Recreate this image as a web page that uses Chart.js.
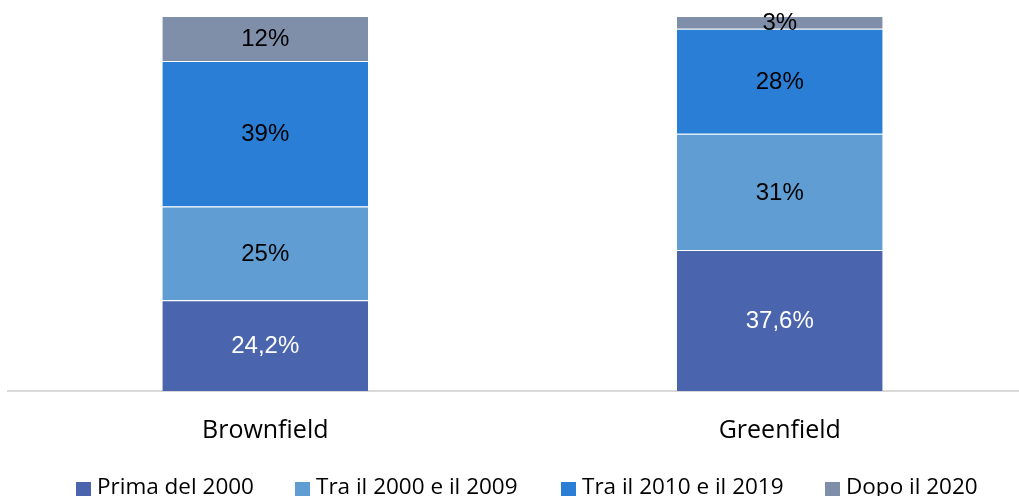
<!DOCTYPE html>
<html>
<head>
<meta charset="utf-8">
<script src="https://cdn.jsdelivr.net/npm/chart.js@4/dist/chart.umd.min.js"></script>
<style>
  html, body { margin: 0; padding: 0; background: #ffffff; overflow: hidden; width: 1019px; height: 496px; }
  #wrap { position: absolute; left: 0; top: 0; width: 1045px; height: 496px; }
</style>
</head>
<body>
<div id="wrap"><canvas id="c"></canvas></div>
<script>
// Categories
const categories = ['Brownfield', 'Greenfield'];
// Series names
const seriesNames = ['Prima del 2000', 'Tra il 2000 e il 2009', 'Tra il 2010 e il 2019', 'Dopo il 2020'];
// Series values (% share)
const prima2000 = [24.2, 37.6];
const tra2000_2009 = [25, 31];
const tra2010_2019 = [38.8, 28];
const dopo2020 = [12, 3.4];
// Data label texts
const labelsPrima = ['24,2%', '37,6%'];
const labelsTra2000 = ['25%', '31%'];
const labelsTra2010 = ['39%', '28%'];
const labelsDopo = ['12%', '3%'];

const colors = ['#4A65AD', '#5F9DD2', '#2A7ED6', '#7F8EA9'];
const labelColors = ['#ffffff', '#000000', '#000000', '#000000'];
const seriesValues = [prima2000, tra2000_2009, tra2010_2019, dopo2020];
const seriesLabels = [labelsPrima, labelsTra2000, labelsTra2010, labelsDopo];

const datasets = seriesNames.map((name, i) => ({
  label: name,
  data: seriesValues[i],
  backgroundColor: colors[i],
  borderColor: '#ffffff',
  borderWidth: { top: 1, left: 0, right: 0, bottom: 0 },
  borderSkipped: false,
  barPercentage: 0.4,
  categoryPercentage: 1.0,
  valueLabels: seriesLabels[i],
  labelColor: labelColors[i]
}));

const valueLabelPlugin = {
  id: 'valueLabels',
  afterDatasetsDraw(chart) {
    const ctx = chart.ctx;
    ctx.save();
    ctx.font = '24px "Liberation Sans", Arial, sans-serif';
    ctx.textAlign = 'center';
    ctx.textBaseline = 'middle';
    chart.data.datasets.forEach((ds, di) => {
      const meta = chart.getDatasetMeta(di);
      meta.data.forEach((el, j) => {
        const p = el.getCenterPoint();
        ctx.fillStyle = ds.labelColor;
        ctx.fillText(ds.valueLabels[j], p.x, p.y + 1);
      });
    });
    ctx.restore();
  }
};

// Custom legend (Excel-like spacing)
const legendX = [76, 295, 561, 825];
const customLegendPlugin = {
  id: 'customLegend',
  afterDraw(chart) {
    const ctx = chart.ctx;
    const yMid = chart.chartArea.bottom + 97;
    ctx.save();
    ctx.font = '22.5px "Open Sans", sans-serif';
    ctx.textBaseline = 'middle';
    ctx.textAlign = 'left';
    chart.data.datasets.forEach((ds, i) => {
      const x = legendX[i];
      ctx.fillStyle = ds.backgroundColor;
      ctx.fillRect(x, yMid - 6, 15, 14);
      ctx.fillStyle = '#000000';
      ctx.fillText(ds.label, x + 21, yMid);
    });
    ctx.restore();
  }
};

new Chart(document.getElementById('c'), {
  type: 'bar',
  data: { labels: categories, datasets: datasets },
  options: {
    responsive: true,
    maintainAspectRatio: false,
    animation: false,
    layout: { padding: { left: 8, right: 8, top: 16, bottom: 25 } },
    scales: {
      x: {
        stacked: true,
        grid: { display: false, drawTicks: false },
        border: { display: true, color: '#d9d9d9', width: 2 },
        ticks: { color: '#000000', font: { family: '"Open Sans", sans-serif', size: 25 }, padding: 25 }
      },
      y: {
        stacked: true,
        display: false,
        min: 0,
        max: 100
      }
    },
    plugins: {
      legend: { display: false },
      tooltip: { enabled: false }
    }
  },
  plugins: [valueLabelPlugin, customLegendPlugin]
});
</script>
</body>
</html>
